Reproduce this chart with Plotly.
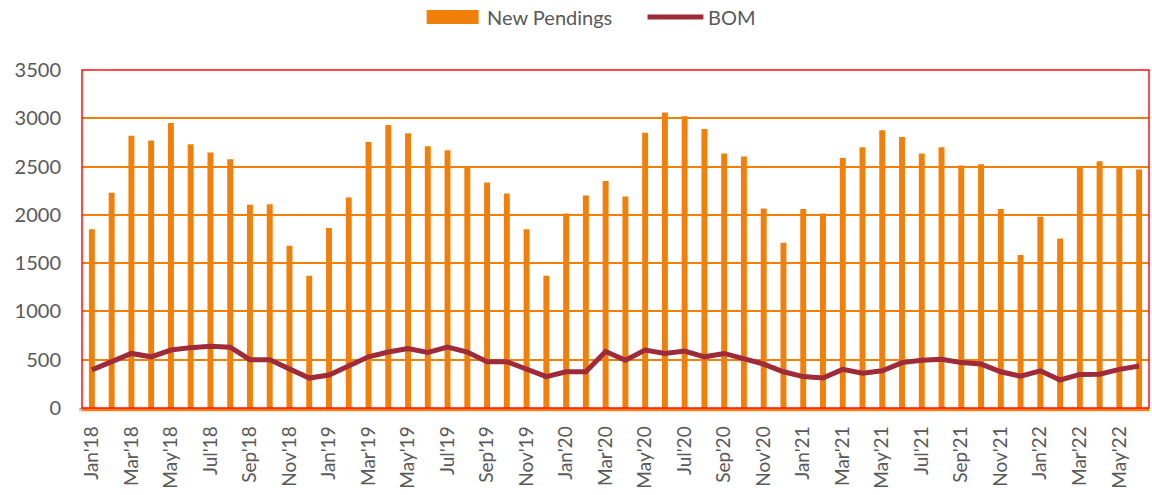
import plotly.graph_objects as go

months = ["Jan", "Feb", "Mar", "Apr", "May", "Jun", "Jul", "Aug", "Sep", "Oct", "Nov", "Dec"]
categories = [f"{m}'{y}" for y in ["18", "19", "20", "21"] for m in months] + [f"{m}'22" for m in months[:6]]

new_pendings = [
    1850, 2230, 2820, 2770, 2950, 2730, 2645, 2575, 2105, 2110, 1680, 1370,
    1865, 2180, 2755, 2930, 2845, 2710, 2670, 2495, 2335, 2220, 1850, 1370,
    2015, 2200, 2350, 2190, 2850, 3060, 3020, 2890, 2635, 2605, 2065, 1710,
    2060, 2015, 2590, 2700, 2875, 2805, 2635, 2700, 2510, 2525, 2060, 1585,
    1980, 1755, 2500, 2555, 2490, 2470,
]
bom = [
    395, 480, 565, 530, 600, 625, 640, 630, 500, 500, 410, 310,
    342, 435, 530, 580, 615, 575, 630, 580, 480, 480, 400, 325,
    375, 375, 585, 495, 600, 565, 590, 530, 565, 515, 455, 375,
    325, 310, 400, 360, 385, 470, 495, 505, 470, 455, 375, 330,
    385, 290, 348, 350, 400, 435,
]
tick_labels = categories[::2]
legend_names = ["New Pendings", "BOM"]

ORANGE = "#F0800A"
BOM_COLOR = "#9E2A3A"
GRAY = "#595959"
FONT = "Lato"

fig = go.Figure()
fig.add_trace(go.Bar(
    x=categories, y=new_pendings, name=legend_names[0],
    marker=dict(color=ORANGE, line=dict(width=0)), showlegend=False,
))
fig.add_trace(go.Scatter(
    x=categories, y=bom, name=legend_names[1], mode="lines",
    line=dict(color=BOM_COLOR, width=5), showlegend=False,
))

# soft drop shadow under the plot area
for i, op in enumerate([0.18, 0.12, 0.07, 0.03]):
    fig.add_shape(type="rect", xref="paper", yref="paper",
                  x0=-0.002 - i * 0.0005, x1=1.0, y0=-0.004 - i * 0.004, y1=0.0,
                  line=dict(width=0), fillcolor=f"rgba(0,0,0,{op})", layer="below")

# red plot-area border
fig.add_shape(type="rect", xref="paper", yref="paper", x0=0, x1=1, y0=0, y1=1,
              line=dict(color="#FF1010", width=1.5), layer="above")

# custom legend (wide swatch like the reference)
fig.add_shape(type="rect", xref="paper", yref="paper",
              x0=0.3230, x1=0.3717, y0=1.1361, y1=1.1775,
              line=dict(width=0), fillcolor=ORANGE)
fig.add_annotation(xref="paper", yref="paper", x=0.3773, y=1.1568,
                   text=legend_names[0], showarrow=False, xanchor="left", yanchor="middle",
                   font=dict(family=FONT, size=20, color=GRAY))
fig.add_shape(type="line", xref="paper", yref="paper",
              x0=0.530, x1=0.5824, y0=1.1568, y1=1.1568,
              line=dict(color=BOM_COLOR, width=5))
fig.add_annotation(xref="paper", yref="paper", x=0.5852, y=1.1568,
                   text=legend_names[1], showarrow=False, xanchor="left", yanchor="middle",
                   font=dict(family=FONT, size=20, color=GRAY))

fig.update_layout(
    width=1152, height=495,
    margin=dict(l=82, r=3, t=70, b=87, autoexpand=False),
    paper_bgcolor="white", plot_bgcolor="white",
    bargap=0.7,
    font=dict(family=FONT, size=20, color=GRAY),
    showlegend=False,
    xaxis=dict(
        type="category", range=[-0.5, len(categories) - 0.5],
        tickmode="array", tickvals=tick_labels, ticktext=tick_labels,
        tickangle=-90, tickfont=dict(family=FONT, size=19, color=GRAY),
        showgrid=False, showline=True, linecolor=ORANGE, linewidth=2.5,
        ticks="", ticklabelstandoff=8, zeroline=False, automargin=False,
    ),
    yaxis=dict(
        range=[0, 3500], dtick=500, tick0=0,
        showgrid=True, gridcolor=ORANGE, gridwidth=1.5,
        tickfont=dict(family=FONT, size=20, color=GRAY),
        showline=False, zeroline=False, ticks="", ticklabelstandoff=20,
        automargin=False,
    ),
)

fig.write_html("out.html", config={"displayModeBar": False},
               post_script="document.body.style.margin='0';")
